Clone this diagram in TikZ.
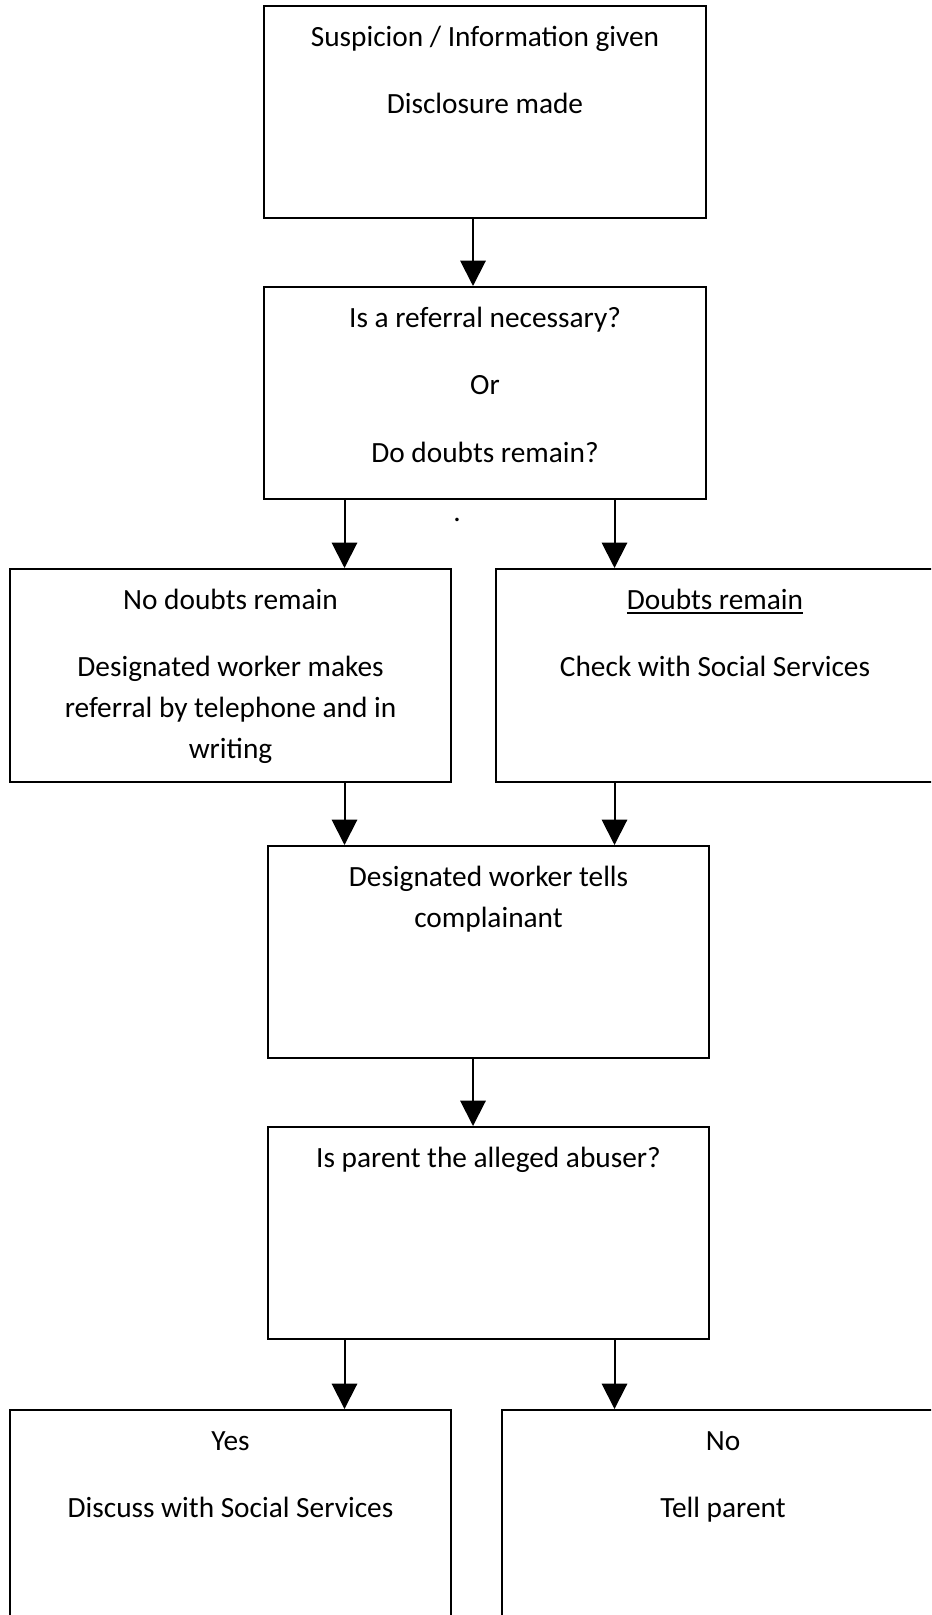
\documentclass[tikz,border=0pt]{standalone}
\usepackage{fontspec}
\setmainfont{Carlito}
\usetikzlibrary{arrows.meta,fit}

\begin{document}
\begin{tikzpicture}[
	x=0.375pt, y=-0.375pt,
	box/.style={ draw, line width=0.75pt, inner sep=0pt },
	txt/.style={ anchor=north, yshift=-4.4pt, align=center, inner sep=0pt, font=\fontsize{11}{15.4}\selectfont },
	arr/.style={ -{Triangle[length=9.5pt,width=9.5pt]}, line width=0.75pt }
]

\useasboundingbox (0,0) rectangle (931,1615);
\clip (0,0) rectangle (931,1615);

\node (susp) [box, fit={(264,6) (706,218)}] {};
\node at (susp.north) (suspText) [txt] {\strut Suspicion / Information given\\[10pt]Disclosure made};
\node (refq) [box, fit={(264,287) (706,499)}] {};
\node at (refq.north) (refqText) [txt] {\strut Is a referral necessary?\\[10pt]Or\\[10pt]Do doubts remain?};
\node at (457,521) (dot) [anchor=base, inner sep=0pt, font=\fontsize{11}{15.4}\selectfont] {.};
\node (nodoubt) [box, fit={(10,569) (451,782)}] {};
\node at (nodoubt.north) (nodoubtText) [txt] {\strut No doubts remain\\[10pt]Designated worker makes\\referral by telephone and in\\writing};
\node (doubt) [box, fit={(496,569) (934,782)}] {};
\node at (doubt.north) (doubtText) [txt] {\strut\underline{Doubts remain}\\[10pt]Check with Social Services};
\node (tells) [box, fit={(268,846) (709,1058)}] {};
\node at (tells.north) (tellsText) [txt] {\strut Designated worker tells\\complainant};
\node (abuser) [box, fit={(268,1127) (709,1339)}] {};
\node at (abuser.north) (abuserText) [txt] {\strut Is parent the alleged abuser?};
\node (yes) [box, fit={(10,1410) (451,1630)}] {};
\node at (yes.north) (yesText) [txt] {\strut Yes\\[10pt]Discuss with Social Services};
\node (no) [box, fit={(502,1410) (944,1630)}] {};
\node at (no.north) (noText) [txt] {\strut No\\[10pt]Tell parent};

\coordinate (mid) at (473,0);
\coordinate (lft) at (344.5,0);
\coordinate (rgt) at (614.5,0);

\draw[arr] (susp.south -| mid) -- (refq.north -| mid);
\draw[arr] (refq.south -| lft) -- (nodoubt.north -| lft);
\draw[arr] (refq.south -| rgt) -- (doubt.north -| rgt);
\draw[arr] (nodoubt.south -| lft) -- (tells.north -| lft);
\draw[arr] (doubt.south -| rgt) -- (tells.north -| rgt);
\draw[arr] (tells.south -| mid) -- (abuser.north -| mid);
\draw[arr] (abuser.south -| lft) -- (yes.north -| lft);
\draw[arr] (abuser.south -| rgt) -- (no.north -| rgt);

\end{tikzpicture}
\end{document}
